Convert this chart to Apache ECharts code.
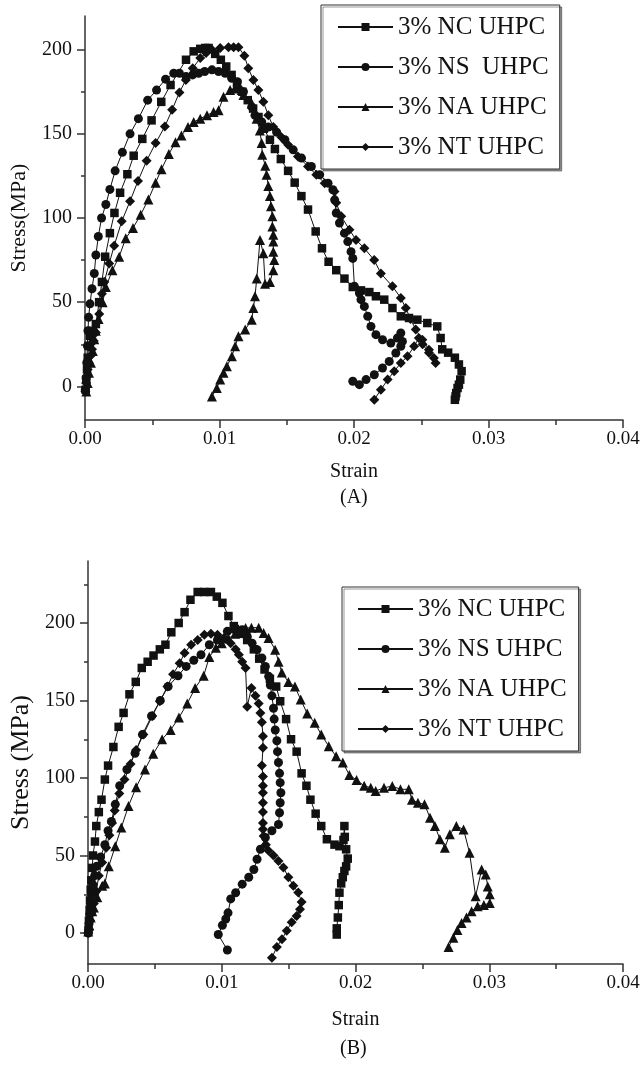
<!DOCTYPE html>
<html><head><meta charset="utf-8">
<script src="https://cdn.jsdelivr.net/npm/echarts@6/dist/echarts.min.js"></script>
<style>html,body{margin:0;padding:0;background:#fff}#c{width:644px;height:1069px}</style>
</head><body><div id="c"></div>
<script>
// ---------- Data: (strain, stress MPa) ----------
const topNames = ['3% NC UHPC', '3% NS  UHPC', '3% NA UHPC', '3% NT UHPC'];
const botNames = ['3% NC UHPC', '3% NS UHPC', '3% NA UHPC', '3% NT UHPC'];

const topNC = [[0.00005,-2],[0.0001,4],[0.00015,10],[0.0002,17],[0.00027,24],[0.00037,30],[0.00055,33],[0.00081,37],[0.00105,50],[0.00126,62],[0.0015,77],[0.00185,91],[0.00219,103],[0.00261,115],[0.00315,126],[0.00362,137],[0.00426,147],[0.00495,158],[0.00567,169],[0.00636,179],[0.00751,194],[0.00808,199],[0.00857,200.5],[0.00894,201],[0.00919,201],[0.00968,197.5],[0.0101,194],[0.0105,190],[0.0109,185],[0.0113,180],[0.0117,175],[0.0121,170],[0.0125,165],[0.0129,160],[0.0133,153],[0.01375,146.5],[0.01412,141],[0.01456,135],[0.0151,128],[0.01559,121],[0.01609,113],[0.01658,105],[0.01715,92],[0.01762,82],[0.01811,74],[0.01868,69],[0.01929,64],[0.01991,59],[0.02052,57],[0.02114,56],[0.02163,53.5],[0.02225,51.5],[0.02286,46.5],[0.02348,41.6],[0.02409,40.6],[0.02471,39.6],[0.02545,37.6],[0.02619,35.6],[0.02644,28.7],[0.02656,22],[0.0270,20],[0.0275,17],[0.0278,13],[0.0280,9],[0.0279,4],[0.0278,1],[0.0277,-1],[0.0276,-4],[0.02755,-6],[0.0275,-8]];
const topNS = [[0.00002,-2],[0.00008,5],[0.00013,14],[0.00018,24],[0.00022,33],[0.00027,41],[0.00037,49],[0.00052,58],[0.00069,67],[0.00081,78],[0.00099,89],[0.00123,100],[0.00155,108],[0.00185,117],[0.00224,128],[0.00278,139],[0.00335,150],[0.00397,159],[0.00466,170],[0.00532,176],[0.00599,182.5],[0.0066,186],[0.00702,186],[0.00751,184],[0.008,185],[0.00845,186],[0.0089,187],[0.00944,188],[0.00993,187],[0.01042,186],[0.01091,183],[0.01133,181],[0.01178,175],[0.0124,166],[0.01264,161],[0.01314,157],[0.01363,154],[0.01425,151],[0.01486,146.5],[0.01548,140.5],[0.0161,135.6],[0.01683,130.6],[0.01745,125.7],[0.01807,120.7],[0.01843,116.8],[0.01856,110.8],[0.01868,103],[0.01892,97],[0.01929,91],[0.01954,86],[0.01978,80],[0.01991,76],[0.02003,59.4],[0.0204,55.4],[0.02052,51.5],[0.02077,47.5],[0.02102,41.6],[0.02126,35.6],[0.02163,30.7],[0.02212,27.7],[0.02274,25.7],[0.02323,28.7],[0.02348,31.7],[0.0236,26.7],[0.02348,23.8],[0.02311,19.8],[0.02262,14.8],[0.02212,10.9],[0.02151,6.9],[0.0209,4],[0.0204,1],[0.01991,3]];
const topNA = [[0.0001,-3],[0.0002,2],[0.0003,8],[0.00044,14],[0.00058,21],[0.00069,28],[0.0008,33],[0.00101,40],[0.00131,50],[0.00155,59],[0.00204,69],[0.00254,77],[0.00303,88],[0.00357,94],[0.00414,102],[0.00471,111],[0.00525,121],[0.00569,129],[0.00623,138],[0.00673,145],[0.00717,149],[0.00766,154],[0.00808,157],[0.00857,159],[0.00907,161],[0.00956,163],[0.00993,164],[0.0103,172],[0.01079,176],[0.01116,177],[0.0113,179],[0.01165,176],[0.01178,173],[0.0124,168],[0.01276,159],[0.013,152],[0.01313,144.5],[0.01318,137.6],[0.0134,131],[0.0135,125.7],[0.01363,119],[0.01375,113],[0.01383,107],[0.01393,101],[0.01393,95],[0.014,90],[0.014,86],[0.014,80],[0.01407,75],[0.014,69],[0.01375,62],[0.01339,61],[0.01326,79],[0.01301,87],[0.01277,64],[0.01264,53.5],[0.01252,46.5],[0.0124,39.6],[0.01191,33.7],[0.01141,29.7],[0.01116,23.8],[0.01092,17.8],[0.01055,12],[0.0103,8],[0.01005,4],[0.0098,-1],[0.00944,-6]];
const topNT = [[0.00003,-3],[0.00008,2],[0.00012,6],[0.0002,10],[0.00027,14],[0.0004,18],[0.00052,22],[0.00065,27],[0.00081,32],[0.00106,43],[0.00126,55],[0.00143,62],[0.0018,73],[0.00217,83.5],[0.00273,98],[0.00335,110],[0.00394,122],[0.00458,134],[0.00525,144.5],[0.00594,154.4],[0.00648,164.3],[0.00702,174.6],[0.0075,182],[0.00801,189],[0.00857,195],[0.009,198],[0.00944,200],[0.01005,201],[0.01067,201.5],[0.01105,201.5],[0.01141,201.5],[0.01185,196.4],[0.01214,189],[0.01252,182],[0.01289,176],[0.01326,169],[0.01363,161],[0.014,154],[0.01461,148],[0.0151,143.5],[0.01583,136.6],[0.01658,130.6],[0.0172,125.7],[0.01782,120.7],[0.01855,115.8],[0.01868,109],[0.01905,101],[0.01966,93],[0.02015,87],[0.02077,82],[0.0215,75],[0.022,67],[0.02286,59.4],[0.02348,52.5],[0.02385,46.5],[0.0242,40],[0.02459,33.7],[0.02508,27.7],[0.02557,21.8],[0.02594,16.8],[0.02607,13.9],[0.02557,20],[0.0251,25],[0.02482,28.7],[0.02447,23.8],[0.02398,17.8],[0.02348,13.9],[0.02299,8.9],[0.0225,4],[0.022,-2],[0.02151,-7.9]];

const botNC = [[0.00003,2],[0.00007,8],[0.00012,15],[0.00015,21],[0.0002,28],[0.00025,34],[0.00032,42],[0.00037,50],[0.00052,59],[0.00062,69],[0.00081,78],[0.00101,86],[0.00126,99],[0.0015,108],[0.0019,120],[0.00229,133],[0.00266,142],[0.0031,154],[0.00357,162],[0.00402,171],[0.00446,175],[0.0049,179],[0.00537,183],[0.00579,186],[0.00623,194],[0.00678,200],[0.00722,207],[0.00766,215],[0.0082,220],[0.0087,220],[0.00919,220],[0.00963,217],[0.01005,213],[0.0105,204.5],[0.0109,198],[0.0114,193],[0.0119,189],[0.0124,183],[0.0128,177],[0.0132,170],[0.0136,164],[0.01407,159],[0.01437,149.5],[0.01481,138],[0.01518,125],[0.0156,117],[0.01597,103],[0.01633,95],[0.01663,86],[0.01702,77],[0.01744,69],[0.01786,60.5],[0.01843,57],[0.0188,56],[0.0191,60],[0.01917,69],[0.0192,62],[0.0193,54],[0.01942,48],[0.0193,43],[0.01917,40],[0.01905,36],[0.01893,32],[0.0188,26],[0.01875,18],[0.01868,10],[0.0186,3],[0.0186,-1]];
const botNS = [[0.00002,0],[0.00007,6],[0.00012,12],[0.0002,18],[0.00027,25],[0.00037,31],[0.0005,37],[0.00065,43],[0.00094,49],[0.00126,57],[0.0015,66],[0.00175,72],[0.00204,83],[0.00237,95],[0.00291,105.5],[0.00352,116],[0.00407,128],[0.00475,140],[0.0054,150],[0.00599,159],[0.00673,166],[0.00734,172],[0.00791,176],[0.00845,179.5],[0.00907,186],[0.00968,189],[0.01042,194.6],[0.01091,196],[0.01104,196.7],[0.01153,195.6],[0.0119,191.3],[0.01227,187],[0.01264,182.8],[0.013,177.4],[0.01326,172],[0.01351,165.6],[0.01363,160],[0.01375,153],[0.01387,145],[0.01392,138],[0.014,131],[0.01412,124],[0.01417,117],[0.01424,110],[0.01432,103],[0.01437,97],[0.01442,90.5],[0.01437,84],[0.01432,77.6],[0.01424,70],[0.01375,66],[0.01326,61.6],[0.01289,54],[0.01264,47.6],[0.0124,41],[0.01202,36],[0.01153,31.5],[0.01104,26],[0.01067,22],[0.01047,13],[0.0103,9],[0.01005,5],[0.00974,-1],[0.01042,-11]];
const botNA = [[0.00002,1],[0.0001,5],[0.0002,10],[0.00032,14],[0.00044,16.5],[0.00069,23],[0.00106,30.5],[0.00126,32],[0.00155,43],[0.00204,56],[0.00249,68],[0.00303,82],[0.0036,94],[0.00426,105.5],[0.00488,115.6],[0.00554,125],[0.00618,131],[0.0068,139],[0.00742,148],[0.00801,158],[0.00865,166],[0.00907,178],[0.00956,184],[0.0100,187],[0.0105,190],[0.0110,193],[0.0114,195],[0.01178,196.7],[0.01222,197],[0.01276,197],[0.01313,193.5],[0.0135,190.3],[0.01399,182.8],[0.01425,175],[0.01449,168],[0.01498,162],[0.01547,159],[0.0159,150.6],[0.01639,141.6],[0.01695,135.6],[0.01744,128],[0.018,120.5],[0.01855,114],[0.01905,110],[0.01954,102],[0.02008,98.7],[0.02065,95],[0.02114,93.7],[0.02151,91.6],[0.02213,93.7],[0.02275,94.8],[0.02336,92.7],[0.02398,92.7],[0.02422,86],[0.02467,84],[0.02516,83],[0.02557,74.4],[0.02594,69],[0.02631,60.5],[0.02668,55],[0.02705,63.7],[0.02754,69],[0.02808,66.8],[0.02853,51.7],[0.02898,23.7],[0.02943,41],[0.02974,37.7],[0.02989,30],[0.03004,25],[0.03004,19.4],[0.0296,18],[0.02913,17.2],[0.02868,14],[0.0283,10],[0.02793,6.5],[0.02762,2],[0.02732,-3],[0.02696,-9]];
const botNT = [[0.00002,0],[0.00007,2],[0.00015,8],[0.00025,13],[0.00044,19],[0.00062,27],[0.00081,37],[0.00106,45.5],[0.00136,55],[0.0016,63],[0.0018,71],[0.002,79],[0.00234,90],[0.00273,99],[0.00318,109],[0.0036,118],[0.00414,128],[0.00481,140],[0.00537,149.5],[0.00594,159],[0.00636,167],[0.00685,174],[0.00722,180.6],[0.00771,186],[0.0082,189],[0.0087,192.4],[0.00919,193],[0.00968,192.4],[0.01017,190.3],[0.01067,187],[0.01104,183],[0.01128,179.5],[0.01153,175],[0.01178,171],[0.0119,146],[0.01222,158],[0.01252,153],[0.01276,148],[0.01289,142],[0.013,136],[0.01308,127],[0.01308,119.5],[0.013,108],[0.01308,101],[0.01308,95],[0.01308,90.5],[0.01308,84],[0.01308,78],[0.01308,71],[0.01308,67],[0.01313,62.6],[0.0133,57],[0.0135,53],[0.01387,50],[0.01424,46.5],[0.01461,42.3],[0.01498,36],[0.01535,30.5],[0.01572,26.2],[0.01597,20],[0.01585,15.4],[0.0156,11],[0.01523,7],[0.01486,1.5],[0.0145,-4],[0.01412,-9],[0.01375,-16]];

const yMajorTicks = [0, 50, 100, 150, 200];
const yMinorTop = [25, 75, 125, 175];
const yMinorBot = [25, 75, 125, 175, 225];
const symbols = ['rect', 'circle', 'triangle', 'diamond'];

// ---------- Chart ----------
const FONT = '"Liberation Serif", "Times New Roman", serif';
const chart = echarts.init(document.getElementById('c'), null, {renderer: 'canvas'});

function xAxis(gridIndex, nameGap) {
  return {
    gridIndex, type: 'value', min: 0, max: 0.04, interval: 0.01,
    name: 'Strain', nameLocation: 'middle', nameGap,
    nameTextStyle: {fontFamily: FONT, fontSize: 20, color: '#111'},
    axisLine: {show: true, onZero: false, lineStyle: {color: '#333', width: 1.5}},
    axisTick: {show: true, inside: false, length: 8, lineStyle: {color: '#333', width: 1.5}},
    minorTick: {show: true, splitNumber: 2, length: 5, lineStyle: {color: '#333', width: 1.5}},
    axisLabel: {margin: 10, fontFamily: FONT, fontSize: 19, color: '#111',
      formatter: v => v.toFixed(2)},
    splitLine: {show: false}, minorSplitLine: {show: false}
  };
}
function yAxisMain(gridIndex, min, max, name, nameSize, nameGap) {
  return {
    gridIndex, type: 'value', min, max, position: 'left',
    name, nameLocation: 'middle', nameGap,
    nameTextStyle: {fontFamily: FONT, fontSize: nameSize, color: '#111'},
    axisLine: {show: true, onZero: false, lineStyle: {color: '#333', width: 1.5}},
    axisTick: {show: true, length: 8, customValues: yMajorTicks, lineStyle: {color: '#333', width: 1.5}},
    axisLabel: {margin: 13, fontFamily: FONT, fontSize: 20, color: '#111', customValues: yMajorTicks},
    splitLine: {show: false}
  };
}
function yAxisMinor(gridIndex, min, max, ticks) {
  return {
    gridIndex, type: 'value', min, max, position: 'left', offset: 0,
    axisLine: {show: false, onZero: false},
    axisTick: {show: true, length: 4, customValues: ticks, lineStyle: {color: '#333', width: 1.5}},
    axisLabel: {show: false},
    splitLine: {show: false}
  };
}
function mkSeries(name, data, sym, xi, yi) {
  return {
    name, type: 'line', data, xAxisIndex: xi, yAxisIndex: yi,
    symbol: sym, symbolSize: sym === 'rect' ? 8.5 : (sym === 'circle' ? 9 : 10),
    showAllSymbol: true,
    lineStyle: {color: '#111', width: 1},
    itemStyle: {color: '#111'},
    emphasis: {disabled: true},
    animation: false
  };
}
function legend(names, left, top, pad) {
  return {
    data: names, orient: 'vertical', left, top,
    padding: pad, itemGap: 12, itemWidth: 55, itemHeight: 10,
    selectedMode: false,
    backgroundColor: '#fff', borderColor: '#333', borderWidth: 1,
    shadowColor: 'rgba(0,0,0,0.4)', shadowOffsetX: 2, shadowOffsetY: 2, shadowBlur: 0,
    textStyle: {fontFamily: FONT, fontSize: 25, color: '#111', lineHeight: 28}
  };
}

const series = [];
[topNC, topNS, topNA, topNT].forEach((d, i) => series.push(mkSeries(topNames[i], d, symbols[i], 0, 0)));
[botNC, botNS, botNA, botNT].forEach((d, i) => series.push(mkSeries(botNames[i], d, symbols[i], 1, 2)));

chart.setOption({
  animation: false,
  backgroundColor: '#fff',
  grid: [
    {left: 82, top: 16, width: 541, height: 404, containLabel: false},
    {left: 82, top: 561, width: 541, height: 403, containLabel: false}
  ],
  xAxis: [xAxis(0, 42), xAxis(1, 46)],
  yAxis: [
    yAxisMain(0, -20, 220, 'Stress(MPa)', 22, 55),
    yAxisMinor(0, -20, 220, yMinorTop),
    yAxisMain(1, -20, 240, 'Stress (MPa)', 26, 54),
    yAxisMinor(1, -20, 240, yMinorBot)
  ],
  legend: [
    legend(topNames, 321, 5, [8, 11, 8, 16]),
    legend(botNames, 342, 587, [8, 12, 8, 15])
  ],
  graphic: [
    {type: 'text', left: 340, top: 488, style: {text: '(A)', font: '20px ' + FONT, fill: '#111'}},
    {type: 'text', left: 340, top: 1039, style: {text: '(B)', font: '20px ' + FONT, fill: '#111'}}
  ],
  series
});
</script></body></html>
